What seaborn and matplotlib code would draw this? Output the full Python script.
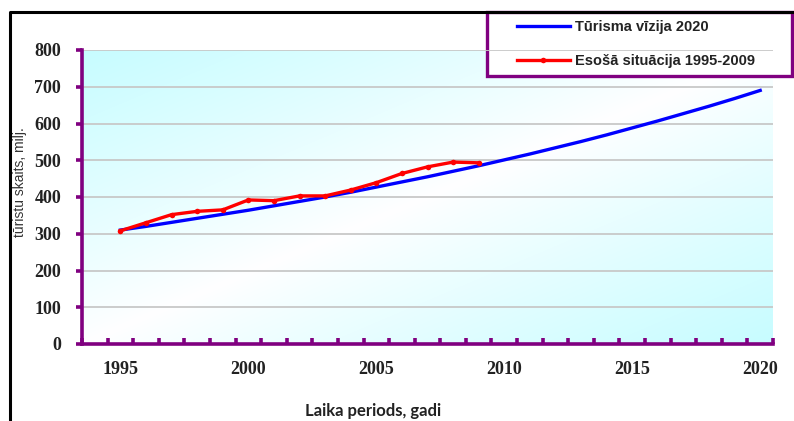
import numpy as np
import pandas as pd
import matplotlib
matplotlib.use("Agg")
import matplotlib.pyplot as plt
from matplotlib.lines import Line2D
from matplotlib.patches import Rectangle
from matplotlib.ticker import FixedLocator
import seaborn as sns

# Projected tourist arrivals (million) – "Tūrisma vīzija 2020"
vision_years = list(range(1995, 2021))
vision_values = [310, 320, 331, 342, 353, 364, 376, 388, 400, 413, 427, 441, 455,
                 470, 485, 501, 517, 534, 551, 569, 588, 607, 627, 647, 668, 690]

# Actual arrivals 1995-2009 – "Esošā situācija 1995-2009"
actual_years = list(range(1995, 2010))
actual_values = [308, 330, 352, 361, 365, 392, 390, 403, 403, 419, 439, 464, 482, 495, 493]

series_names = ["Tūrisma vīzija 2020", "Esošā situācija 1995-2009"]
y_ticks = [0, 100, 200, 300, 400, 500, 600, 700, 800]
x_ticks = [1995, 2000, 2005, 2010, 2015, 2020]
y_label = "tūristu skaits, milj."
x_label = "Laika periods, gadi"

vision_df = pd.DataFrame({"gads": vision_years, "skaits": vision_values})
actual_df = pd.DataFrame({"gads": actual_years, "skaits": actual_values})

W, H = 794, 421
fig = plt.figure(figsize=(W / 100, H / 100), dpi=100)
fig.patch.set_facecolor("white")
ax = fig.add_axes([82 / W, 1 - 344 / H, (773 - 82) / W, (344 - 50) / H])

purple = "#800080"

# diagonal cyan-white-cyan background of the plot area
nx, ny = 300, 200
xa = np.linspace(0, 1, nx)[None, :]
ya = np.linspace(1, 0, ny)[:, None]  # image rows go from top to bottom
t = (xa + (1 - ya)) / 2
s = np.abs(2 * t - 1) ** 0.9
cyan = np.array([0.78, 0.99, 1.0])
white = np.array([1.0, 1.0, 1.0])
img = white[None, None, :] * (1 - s[..., None]) + cyan[None, None, :] * s[..., None]
ax.imshow(img, extent=(0, 1, 0, 1), transform=ax.transAxes, aspect="auto",
          zorder=0.1, interpolation="bilinear")

sns.lineplot(data=vision_df, x="gads", y="skaits", ax=ax, color="#0000FF",
             linewidth=2.4, label=series_names[0], zorder=3)
sns.lineplot(data=actual_df, x="gads", y="skaits", ax=ax, color="#FF0000",
             linewidth=2.4, marker="o", markersize=4, markeredgewidth=0,
             label=series_names[1], zorder=4)

ax.set_xlim(1993.5, 2020.5)
ax.set_ylim(0, 800)
ax.set_xticks(x_ticks)
ax.set_yticks(y_ticks)
ax.xaxis.set_minor_locator(FixedLocator(np.arange(1993.5, 2020.6, 1.0)))

ax.set_axisbelow(True)
ax.grid(axis="y", color="#c8c8c8", linewidth=1.3, zorder=0.5)
ax.grid(axis="x", visible=False)

for side in ["top", "right"]:
    ax.spines[side].set_visible(False)
for side in ["left", "bottom"]:
    ax.spines[side].set_color(purple)
    ax.spines[side].set_linewidth(2.6)
    ax.spines[side].set_zorder(5)

ax.tick_params(axis="y", which="major", direction="out", length=4, width=2.6,
               color=purple, pad=11, labelcolor="#222222")
ax.tick_params(axis="x", which="major", length=0, pad=12, labelcolor="#222222")
ax.tick_params(axis="x", which="minor", direction="in", length=4, width=2.6,
               color=purple)
for lab in ax.get_xticklabels() + ax.get_yticklabels():
    lab.set_fontfamily("Liberation Serif")
    lab.set_fontweight("bold")
    lab.set_fontsize(13)
ax.set_xlabel("")
ax.set_ylabel("")

# axis titles
fig.text(20 / W, 1 - 182 / H, y_label, rotation=90, ha="center", va="center",
         family="Liberation Sans", size=10, color="#333333")
fig.text(373 / W, 1 - 416 / H, x_label, ha="center", va="baseline",
         family="Lato", weight="bold", size=12, color="#222222")

# legend box
box = Rectangle((487 / W, 1 - 76 / H), (792 - 487) / W, (76 - 12) / H,
                transform=fig.transFigure, facecolor="white", edgecolor=purple,
                linewidth=2.4, clip_on=False, zorder=0.3)
ax.add_patch(box)
leg = ax.legend(loc="upper left", bbox_to_anchor=(517 / W, 1 - 20 / H),
                bbox_transform=fig.transFigure, frameon=False, borderpad=0,
                borderaxespad=0, handlelength=3.6, handletextpad=0.35,
                labelspacing=1.4,
                prop=dict(family="Liberation Sans", weight="bold", size=10.5))
for txt in leg.get_texts():
    txt.set_color("#222222")

# outer black frame
fig.add_artist(Line2D([10 / W, 10 / W, 1.01], [-0.01, 1 - 12 / H, 1 - 12 / H],
                      transform=fig.transFigure, color="black", linewidth=2.2))

fig.savefig("out.png", dpi=100)
